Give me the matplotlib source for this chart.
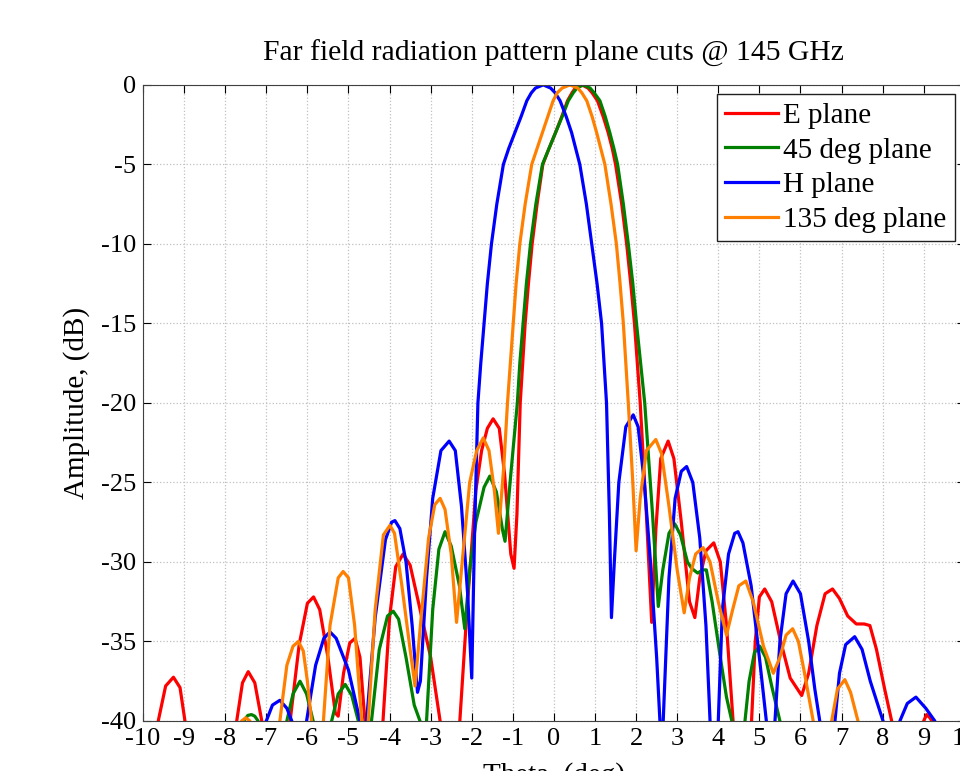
import numpy as np
import matplotlib.pyplot as plt

plt.rcParams['font.family'] = ['Liberation Serif', 'DejaVu Serif']
plt.rcParams['axes.unicode_minus'] = False

# (theta deg, amplitude dB); -50 marks nulls below the plot floor
e_plane = np.array([
    (-10, -50), (-9.63, -40), (-9.45, -37.8), (-9.26, -37.25), (-9.1, -37.9), (-8.98, -40),
    (-8.3, -50), (-7.72, -40), (-7.58, -37.6), (-7.44, -36.9), (-7.28, -37.6), (-7.11, -40),
    (-6.75, -50), (-6.42, -40), (-6.2, -35.2), (-6.0, -32.6), (-5.85, -32.2), (-5.7, -33),
    (-5.5, -36), (-5.32, -39.5), (-5.25, -39.7), (-5.12, -37), (-4.97, -35.1), (-4.84, -34.8),
    (-4.72, -36), (-4.6, -40), (-4.4, -50), (-4.16, -40), (-4.0, -33.5), (-3.85, -30.3),
    (-3.67, -29.5), (-3.5, -30.2), (-3.3, -32.5), (-3.0, -36), (-2.77, -40), (-2.55, -50),
    (-2.29, -40), (-2.12, -33.2), (-1.9, -25.5), (-1.76, -23), (-1.62, -21.6), (-1.48, -21.0),
    (-1.33, -21.6), (-1.2, -24.5), (-1.05, -29.5), (-0.97, -30.4), (-0.9, -27),
    (-0.82, -20), (-0.76, -17.5), (-0.70, -15), (-0.62, -12.5), (-0.53, -10), (-0.41, -7.5),
    (-0.27, -5), (-0.12, -4), (0.04, -3), (0.19, -2), (0.33, -1), (0.44, -0.5), (0.52, -0.2),
    (0.68, 0), (0.83, -0.2), (0.93, -0.5), (1.06, -1), (1.2, -2), (1.32, -3), (1.42, -4),
    (1.50, -5), (1.65, -7.5), (1.77, -10), (1.87, -12.5), (1.96, -15), (2.03, -17.5), (2.1, -20),
    (2.25, -27), (2.38, -33.8), (2.48, -28), (2.6, -23.5), (2.78, -22.4), (2.92, -23.5),
    (3.1, -27.5), (3.3, -32.5), (3.43, -33.5), (3.55, -31), (3.7, -29.3), (3.89, -28.8),
    (4.05, -30), (4.2, -34), (4.36, -40), (4.6, -50), (4.81, -40), (4.9, -35), (5.0, -32.2),
    (5.13, -31.7), (5.3, -32.5), (5.5, -34.8), (5.75, -37.3), (6.03, -38.4), (6.2, -37),
    (6.4, -34), (6.6, -32), (6.78, -31.7), (6.95, -32.3), (7.15, -33.4), (7.36, -33.9),
    (7.55, -33.9), (7.69, -34.0), (7.85, -35.5), (8.05, -38), (8.22, -40), (8.6, -50),
    (9.0, -40), (9.07, -39.6), (9.15, -39.8), (9.2, -40), (9.5, -50), (10, -50),
])

plane_45 = np.array([
    (-10, -50), (-7.55, -40), (-7.45, -39.65), (-7.36, -39.6), (-7.28, -39.7), (-7.2, -40),
    (-6.85, -50), (-6.5, -40), (-6.35, -38.3), (-6.18, -37.5), (-6.02, -38.3), (-5.86, -40),
    (-5.65, -50), (-5.41, -40), (-5.25, -38.3), (-5.08, -37.7), (-4.92, -38.4), (-4.76, -40),
    (-4.6, -50), (-4.44, -40), (-4.25, -35.5), (-4.05, -33.4), (-3.91, -33.1), (-3.78, -33.6),
    (-3.6, -36), (-3.4, -39), (-3.26, -40), (-3.18, -50), (-3.10, -40), (-2.95, -33),
    (-2.8, -29.2), (-2.65, -28.1), (-2.5, -29), (-2.3, -31.5), (-2.17, -34.2), (-2.05, -30.5),
    (-1.9, -27.5), (-1.7, -25.3), (-1.56, -24.6), (-1.4, -25.6), (-1.25, -28), (-1.19, -28.7),
    (-1.05, -24.5), (-0.89, -20), (-0.83, -17.5), (-0.75, -15), (-0.67, -12.5), (-0.57, -10),
    (-0.44, -7.5), (-0.28, -5), (-0.12, -4), (0.04, -3), (0.2, -2), (0.35, -1), (0.47, -0.5),
    (0.56, -0.2), (0.72, 0), (0.88, -0.2), (0.98, -0.5), (1.12, -1), (1.25, -2), (1.36, -3),
    (1.46, -4), (1.55, -5), (1.69, -7.5), (1.81, -10), (1.92, -12.5), (2.01, -15), (2.11, -17.5),
    (2.21, -20), (2.4, -27), (2.54, -32.8), (2.65, -30.5),
    (2.8, -28.2), (2.94, -27.6), (3.08, -28.3), (3.25, -30), (3.35, -30.4), (3.5, -30.7),
    (3.62, -30.5), (3.71, -30.5), (3.85, -32.5), (4.05, -36), (4.2, -38.5), (4.33, -40),
    (4.5, -50), (4.65, -40), (4.75, -37.5), (4.88, -35.7), (5.01, -35.3), (5.15, -36),
    (5.3, -37.8), (5.5, -40), (5.8, -50), (10, -50),
])

h_plane = np.array([
    (-10, -50), (-7.0, -40), (-6.85, -39.0), (-6.67, -38.7), (-6.5, -39.2), (-6.38, -40),
    (-6.2, -50), (-6.02, -40), (-5.8, -36.5), (-5.6, -34.8), (-5.45, -34.4), (-5.3, -34.8),
    (-5.0, -36.8), (-4.72, -40), (-4.65, -50), (-4.56, -40), (-4.35, -33.5), (-4.1, -28.6),
    (-3.95, -27.5), (-3.87, -27.4), (-3.75, -27.9), (-3.6, -30), (-3.45, -34), (-3.32, -38.2),
    (-3.25, -37.5), (-3.1, -31), (-2.95, -26), (-2.75, -23), (-2.55, -22.4), (-2.4, -23),
    (-2.25, -26.5), (-2.1, -32), (-2.0, -37.3), (-1.93, -28),
    (-1.85, -20), (-1.78, -17.5), (-1.70, -15), (-1.62, -12.5), (-1.52, -10), (-1.39, -7.5),
    (-1.23, -5), (-1.1, -4), (-0.95, -3), (-0.8, -2), (-0.66, -1), (-0.55, -0.5), (-0.45, -0.2),
    (-0.26, 0), (-0.08, -0.2), (0.03, -0.5), (0.15, -1), (0.3, -2), (0.43, -3), (0.53, -4),
    (0.63, -5), (0.79, -7.5), (0.92, -10), (1.05, -12.5), (1.16, -15), (1.22, -17.5), (1.28, -20),
    (1.35, -27), (1.40, -33.5), (1.47, -30), (1.58, -25), (1.75, -21.5), (1.93, -20.75),
    (2.05, -21.5), (2.2, -25), (2.35, -30), (2.5, -36), (2.58, -40), (2.62, -50), (2.66, -40),
    (2.8, -31), (2.95, -26), (3.1, -24.3), (3.23, -24.0), (3.38, -25), (3.55, -28.5),
    (3.7, -34), (3.80, -40), (3.9, -50), (4.0, -40), (4.1, -33), (4.25, -29.5), (4.4, -28.2),
    (4.48, -28.1), (4.6, -28.8), (4.8, -31.5), (5.0, -36), (5.17, -40), (5.27, -50),
    (5.38, -40), (5.5, -35), (5.65, -32), (5.82, -31.2), (6.0, -32), (6.2, -35), (6.35, -38),
    (6.47, -40), (6.65, -50), (6.84, -40), (6.95, -37), (7.1, -35.2), (7.32, -34.7),
    (7.5, -35.5), (7.7, -37.5), (8.01, -40), (8.2, -50), (8.42, -40), (8.6, -38.9),
    (8.81, -38.5), (9.05, -39.2), (9.27, -40), (9.6, -50), (10, -50),
])

plane_135 = np.array([
    (-10, -50), (-7.6, -40), (-7.5, -39.8), (-7.4, -40), (-7.0, -50), (-6.67, -40),
    (-6.5, -36.5), (-6.35, -35.3), (-6.22, -35.0), (-6.1, -35.6), (-6.0, -37.5), (-5.9, -40),
    (-5.75, -50), (-5.61, -40), (-5.45, -34), (-5.25, -31), (-5.13, -30.6), (-5.0, -31),
    (-4.85, -34), (-4.68, -40), (-4.6, -50), (-4.52, -40), (-4.35, -33), (-4.15, -28.3),
    (-3.99, -27.7), (-3.88, -28.2), (-3.7, -31.5), (-3.5, -35.5), (-3.38, -37.8), (-3.25, -34),
    (-3.05, -28.5), (-2.9, -26.4), (-2.77, -26.0), (-2.65, -26.7), (-2.5, -29.5), (-2.37, -33.8),
    (-2.25, -30.5), (-2.05, -25), (-1.88, -23), (-1.72, -22.2), (-1.58, -23), (-1.45, -25.5),
    (-1.35, -28.2), (-1.22, -24),
    (-1.13, -20), (-1.06, -17.5), (-0.99, -15), (-0.92, -12.5), (-0.83, -10), (-0.70, -7.5),
    (-0.54, -5), (-0.41, -4), (-0.28, -3), (-0.15, -2), (-0.02, -1), (0.08, -0.5), (0.2, -0.2),
    (0.39, 0), (0.58, -0.2), (0.68, -0.5), (0.80, -1), (0.93, -2), (1.04, -3), (1.14, -4),
    (1.24, -5), (1.39, -7.5), (1.52, -10), (1.61, -12.5), (1.69, -15), (1.75, -17.5), (1.81, -20),
    (1.92, -25), (2.0, -29.3), (2.1, -26),
    (2.25, -23), (2.48, -22.3), (2.62, -23.2), (2.8, -26.5), (3.0, -30.5), (3.17, -33.2),
    (3.3, -31), (3.45, -29.5), (3.63, -29.1), (3.8, -30), (4.0, -32.5), (4.2, -34.6),
    (4.35, -33), (4.5, -31.5), (4.67, -31.2), (4.85, -32.5), (5.1, -35.3), (5.34, -37.0),
    (5.5, -36), (5.65, -34.6), (5.81, -34.2), (5.95, -35), (6.1, -37), (6.31, -40),
    (6.55, -50), (6.76, -40), (6.9, -38), (7.08, -37.4), (7.22, -38.2), (7.40, -40),
    (7.6, -50), (10, -50),
])

series = [e_plane, plane_45, h_plane, plane_135]
labels = ['E plane', '45 deg plane', 'H plane', '135 deg plane']
colors = ['#ff0000', '#008000', '#0000ff', '#ff8000']

fig = plt.figure(figsize=(9.6, 7.71), dpi=100)
ax = fig.add_axes([0.149, 0.0649, 0.856, 0.825])

for pts, lab, col in zip(series, labels, colors):
    ax.plot(pts[:, 0], pts[:, 1], color=col, lw=2.3, label=lab)

ax.set_xlim(-10, 10)
ax.set_ylim(-40, 0)
ax.set_xticks(range(-10, 11))
ax.set_yticks(range(-40, 1, 5))
ax.grid(True, ls=':', color='#c0c0c0', lw=0.9)
ax.tick_params(direction='in', top=True, right=True, length=6, labelsize=19, pad=5)
for s in ax.spines.values():
    s.set_color('#404040')

ax.set_title('Far field radiation pattern plane cuts @ 145 GHz', fontsize=21.3, pad=17)
ax.set_ylabel('Amplitude, (dB)', fontsize=21, labelpad=8)
ax.set_xlabel('Theta, (deg)', fontsize=21, labelpad=9)

leg = ax.legend(loc='upper right', bbox_to_anchor=(0.988, 0.986), borderaxespad=0,
                fancybox=False, edgecolor='#202020', framealpha=1, fontsize=21,
                handlelength=1.8, handletextpad=0.17, labelspacing=0.28, borderpad=0.3)
leg.get_frame().set_linewidth(1.0)

fig.savefig('out.png', dpi=100)
